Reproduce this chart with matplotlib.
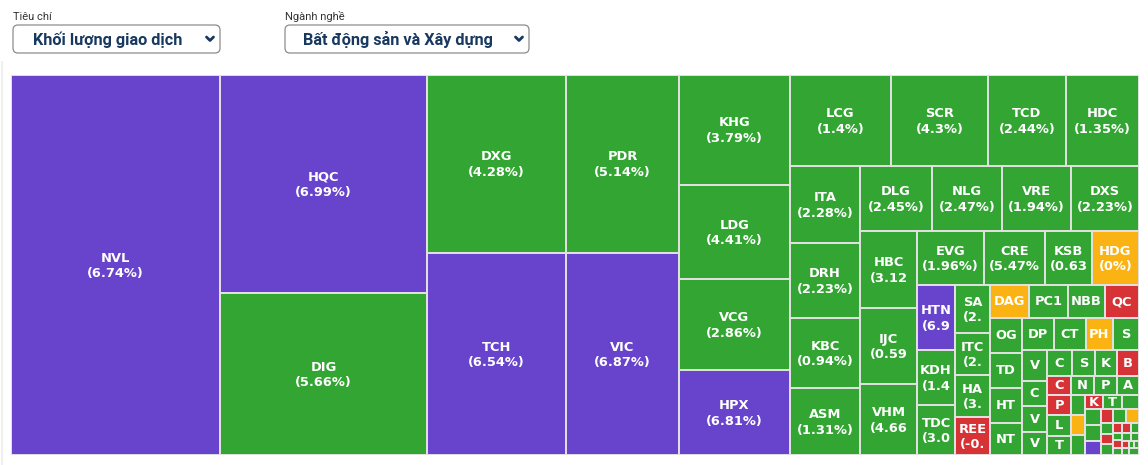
import matplotlib
matplotlib.use("Agg")
import matplotlib.pyplot as plt
from matplotlib.patches import Rectangle, FancyBboxPatch

# treemap data: ticker, trading volume (area), % change
tickers = ["NVL", "HQC", "DIG", "DXG", "TCH", "PDR", "VIC", "KHG", "LDG", "VCG", "HPX",
           "LCG", "SCR", "TCD", "HDC", "ITA", "DRH", "KBC", "ASM", "DLG", "NLG", "VRE", "DXS",
           "HBC", "IJC", "VHM", "EVG", "CRE", "KSB", "HDG", "HTN", "KDH", "TDC",
           "SA", "ITC", "HA", "REE", "DAG", "PC1", "NBB", "QC", "OG", "TD", "HT", "NT",
           "DP", "CT", "PH", "S", "V", "C", "V", "V", "C", "S", "K", "B", "C", "P", "L", "T",
           "N", "P", "A", "", "", "", "K", "T", "", "", "", "", "", "", "",
           "", "", "", "", "", "", "", "", "", "", "", "", "", "", "", ""]
volumes = [79420, 45126, 33534, 24742, 28078, 20114, 22826, 12210, 10434, 10101, 9435,
           9191, 8827, 7098, 6643, 5390, 5250, 4900, 4690, 4680, 4550, 4485, 4420,
           4389, 4332, 4047, 3618, 3294, 2538, 2538, 2470, 2090, 1900,
           1680, 1470, 1470, 1330, 1287, 1287, 1221, 1122, 1120, 1120, 1120, 1024,
           1024, 1024, 864, 832, 775, 625, 650, 575, 650, 598, 572, 572, 456, 480, 504, 456,
           437, 437, 418, 280, 280, 280, 252, 266, 238, 256, 256, 224, 168, 182, 182,
           128, 128, 128, 90, 85, 85, 66, 66, 66, 68, 68, 49, 49, 35, 35, 70]
changes = [6.74, 6.99, 5.66, 4.28, 6.54, 5.14, 6.87, 3.79, 4.41, 2.86, 6.81,
           1.4, 4.3, 2.44, 1.35, 2.28, 2.23, 0.94, 1.31, 2.45, 2.47, 1.94, 2.23,
           3.12, 0.59, 4.66, 1.96, 5.47, 0.63, 0, 6.94, 1.43, 3.03,
           2.5, 2.1, 3.2, -0.5, 0, 1.2, 1.5, -1.1, 1.0, 1.3, 0.8, 1.1,
           1.4, 0.9, 0, 1.2, 1.5, 1.0, 0.7, 1.6, 0.5, 1.1, 0.9, -0.8, -1.2, -0.6, 0.8, 1.0,
           1.3, 0.6, 1.1, 0.9, 0, 1.4, -0.7, 1.2, 0.8, 1.1, 0.6, 6.9, -1.0, 0.9, 0,
           1.0, -0.9, 0.8, -1.3, -0.7, 1.1, 0.6, -0.5, 1.2, 0.9, 1.0, -0.8, 0.7, 1.0, 0.5, 0.3]
# number of cells in each strip of the squarified layout
strip_sizes = [1, 2, 2, 2, 4, 4, 4, 4, 3, 4, 3, 4, 4, 4, 4, 4, 4, 4, 3, 3, 3, 3, 3,
               3, 3, 3, 2, 2, 2, 1]

W, H = 1128, 380          # treemap size in px
X0, Y0 = 11, 75           # top-left corner in px
FIG_W, FIG_H = 1148, 465


def color_for(v):
    if v >= 6.5:
        return "#6843cb"
    if v > 0:
        return "#33a532"
    if v == 0:
        return "#fbb314"
    return "#d73236"


def layout(sizes, vals, x, y, w, h):
    scale = w * h / float(sum(vals))
    rects = []
    i = 0
    for n in sizes:
        group = vals[i:i + n]
        area = sum(group) * scale
        if w >= h:
            sw = area / h
            yy = y
            for v in group:
                hh = v * scale / sw
                rects.append((x, yy, sw, hh))
                yy += hh
            x += sw
            w -= sw
        else:
            sh = area / w
            xx = x
            for v in group:
                ww = v * scale / sh
                rects.append((xx, y, ww, sh))
                xx += ww
            y += sh
            h -= sh
        i += n
    return rects


fig = plt.figure(figsize=(FIG_W / 100, FIG_H / 100), dpi=100)
fig.patch.set_facecolor("white")

# UI layer in pixel coords
ui = fig.add_axes([0, 0, 1, 1])
ui.set_xlim(0, FIG_W)
ui.set_ylim(FIG_H, 0)
ui.axis("off")

navy = "#17385f"
ui.text(13, 17, "Tiêu chí", fontsize=8, color="#333333", family="Roboto", va="center", ha="left")
ui.text(285, 17, "Ngành nghề", fontsize=8, color="#333333", family="Roboto", va="center", ha="left")
for bx, bw, label in [(13, 207, "Khối lượng giao dịch"), (285, 244, "Bất động sản và Xây dựng")]:
    ui.add_patch(FancyBboxPatch((bx, 25), bw, 28, boxstyle="round,pad=0,rounding_size=5",
                                ec="#8c8c8c", fc="white", lw=0.9))
    ui.text(bx + (bw - 22) / 2 + 2, 39.5, label, fontsize=11.7, color=navy, family="Roboto",
            fontweight="semibold", ha="center", va="center")
    cx = bx + bw - 10
    ui.plot([cx - 3.5, cx, cx + 3.5], [37, 40.5, 37], color=navy, lw=2, solid_capstyle="round")
# faint panel border on the left
ui.plot([2, 2], [62, FIG_H], color="#ececec", lw=1.2)

# treemap
ax = fig.add_axes([X0 / FIG_W, 1 - (Y0 + H) / FIG_H, W / FIG_W, H / FIG_H])
ax.set_xlim(0, W)
ax.set_ylim(H, 0)
ax.axis("off")

rects = layout(strip_sizes, volumes, 0, 0, W, H)
renderer = fig.canvas.get_renderer()
FS = 9.4
style = dict(fontsize=FS, fontweight="bold", family="DejaVu Sans", color="white",
             ha="center", va="center")


def text_w(s):
    t = ax.text(0, 0, s, **style)
    w = t.get_window_extent(renderer).width
    t.remove()
    return w


def fit(s, maxw):
    while len(s) > 1 and text_w(s) > maxw:
        s = s[:-1]
    return s


for (x, y, w, h), name, v in zip(rects, tickers, changes):
    ax.add_patch(Rectangle((x, y), w, h, fc=color_for(v), ec="#e2e2e2", lw=1.4))
    if not name:
        continue
    cx, cy = x + w / 2, y + h / 2
    if h >= 36:
        pct = fit("(%g%%)" % v, w - 8)
        ax.text(cx, cy - 7, name, **style)
        ax.text(cx, cy + 8.5, pct, **style)
    else:
        ax.text(cx, cy, name, **style)

fig.savefig("out.png", dpi=100, facecolor="white")
